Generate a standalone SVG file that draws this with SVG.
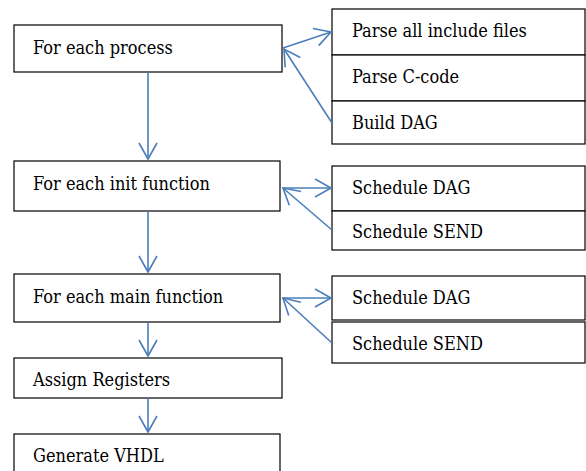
<svg xmlns="http://www.w3.org/2000/svg" width="586" height="471" viewBox="0 0 586 471">
<style>
.box{fill:#fff;stroke:#000;stroke-width:1.2}
.c{stroke:#4a7ebb;stroke-width:1.6;fill:none}
</style>
<defs>
<marker id="a" viewBox="0 0 20 20" refX="17" refY="10" markerWidth="20" markerHeight="20" markerUnits="userSpaceOnUse" orient="auto">
<path d="M1,1 L17,10 L1,19" fill="none" stroke="#4a7ebb" stroke-width="1.6"/>
</marker>
</defs>
<rect width="586" height="471" fill="#fff"/>
<g font-family="DejaVu Serif Condensed, DejaVu Serif, serif" font-stretch="condensed" font-size="18" fill="#000">
<g id="n1"><rect class="box" x="14" y="25" width="268" height="47"/><text x="33" y="54">For each process</text></g>
<g id="n2"><rect class="box" x="14" y="161" width="266" height="50"/><text x="33" y="190">For each init function</text></g>
<g id="n3"><rect class="box" x="14" y="274" width="266" height="48"/><text x="33" y="303">For each main function</text></g>
<g id="n4"><rect class="box" x="14" y="358" width="268" height="40"/><text x="33" y="386">Assign Registers</text></g>
<g id="n5"><rect class="box" x="14" y="434" width="266" height="45"/><text x="33" y="462">Generate VHDL</text></g>
<g id="r1"><rect class="box" x="332" y="9" width="253" height="46"/><text x="352" y="37">Parse all include files</text></g>
<g id="r2"><rect class="box" x="332" y="55" width="253" height="46"/><text x="352" y="83">Parse C-code</text></g>
<g id="r3"><rect class="box" x="332" y="101" width="253" height="43"/><text x="352" y="129">Build DAG</text></g>
<g id="r4"><rect class="box" x="332" y="166" width="253" height="45"/><text x="352" y="194">Schedule DAG</text></g>
<g id="r5"><rect class="box" x="332" y="211" width="253" height="39"/><text x="352" y="238">Schedule SEND</text></g>
<g id="r6"><rect class="box" x="332" y="276" width="253" height="44"/><text x="352" y="304">Schedule DAG</text></g>
<g id="r7"><rect class="box" x="332" y="322" width="253" height="41"/><text x="352" y="350">Schedule SEND</text></g>
</g>
<g id="connectors">
<line class="c" x1="148" y1="72" x2="148" y2="159" marker-end="url(#a)"/>
<line class="c" x1="148" y1="211" x2="148" y2="272" marker-end="url(#a)"/>
<line class="c" x1="148" y1="322" x2="148" y2="356" marker-end="url(#a)"/>
<line class="c" x1="148" y1="398" x2="148" y2="432" marker-end="url(#a)"/>
<line class="c" x1="283" y1="48" x2="331" y2="32" marker-end="url(#a)"/>
<line class="c" x1="332" y1="123" x2="284" y2="49" marker-end="url(#a)"/>
<line class="c" x1="283" y1="188" x2="331" y2="188" marker-end="url(#a)"/>
<line class="c" x1="332" y1="230" x2="283" y2="188" marker-end="url(#a)"/>
<line class="c" x1="283" y1="298" x2="331" y2="298" marker-end="url(#a)"/>
<line class="c" x1="332" y1="343" x2="283" y2="298" marker-end="url(#a)"/>
</g>
</svg>
